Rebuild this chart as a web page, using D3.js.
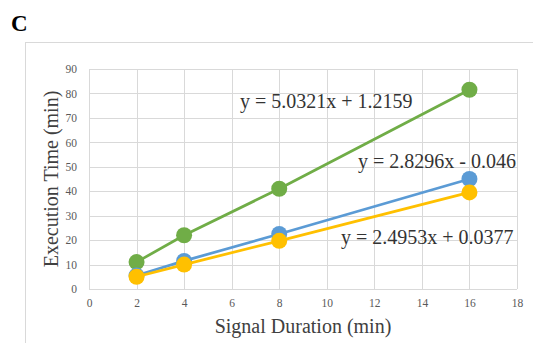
<!DOCTYPE html>
<html>
<head>
<meta charset="utf-8">
<script src="https://cdn.jsdelivr.net/npm/d3@7"></script>
<style>
  body { margin: 0; background: #fff; }
  svg { display: block; }
</style>
</head>
<body>
<div id="chart"></div>
<script>
const durations = [2, 4, 8, 16];
const greenValues = [11, 22, 41, 81.5];
const blueValues = [5.5, 11.5, 22.5, 45];
const yellowValues = [5, 10, 19.7, 39.5];
const xTicks = [0, 2, 4, 6, 8, 10, 12, 14, 16, 18];
const yTicks = [0, 10, 20, 30, 40, 50, 60, 70, 80, 90];
const equations = ['y = 5.0321x + 1.2159', 'y = 2.8296x - 0.046', 'y = 2.4953x + 0.0377'];

const width = 533, height = 343;
const margin = { left: 89, right: 16, top: 69, bottom: 54 };
const serif = '"Liberation Serif", "Times New Roman", serif';

const svg = d3.select('#chart').append('svg')
  .attr('width', width)
  .attr('height', height);

// outer chart frame
svg.append('rect')
  .attr('x', 25.5).attr('y', 42.5)
  .attr('width', 520).attr('height', 320)
  .attr('fill', 'none')
  .attr('stroke', '#d9d9d9');

svg.append('text')
  .attr('x', 11).attr('y', 31)
  .attr('font-family', serif)
  .attr('font-weight', 'bold')
  .attr('font-size', 23)
  .text('C');

const x = d3.scaleLinear().domain([0, 18]).range([margin.left, width - margin.right]);
const y = d3.scaleLinear().domain([0, 90]).range([height - margin.bottom, margin.top]);

// gridlines
svg.append('g')
  .selectAll('line')
  .data(yTicks)
  .enter()
  .append('line')
  .attr('x1', x(0)).attr('x2', x(18))
  .attr('y1', d => Math.round(y(d)) + 0.5).attr('y2', d => Math.round(y(d)) + 0.5)
  .attr('stroke', '#d9d9d9');

svg.append('g')
  .selectAll('line')
  .data(xTicks)
  .enter()
  .append('line')
  .attr('y1', y(0)).attr('y2', y(90))
  .attr('x1', d => Math.round(x(d)) + 0.5).attr('x2', d => Math.round(x(d)) + 0.5)
  .attr('stroke', '#d9d9d9');

// axes (labels only)
const xAxis = svg.append('g')
  .attr('transform', `translate(0, ${y(0) + 4})`)
  .call(d3.axisBottom(x).tickValues(xTicks).tickSize(0).tickPadding(6));
const yAxis = svg.append('g')
  .attr('transform', `translate(${x(0) - 6}, 0)`)
  .call(d3.axisLeft(y).tickValues(yTicks).tickSize(0).tickPadding(6));
[xAxis, yAxis].forEach(g => {
  g.attr('font-family', serif);
  g.select('.domain').remove();
  g.selectAll('text')
    .attr('font-size', 11.5)
    .attr('fill', '#595959');
});

svg.append('text')
  .attr('x', (x(0) + x(18)) / 2).attr('y', 333)
  .attr('text-anchor', 'middle')
  .attr('font-family', serif)
  .attr('font-size', 20)
  .attr('fill', '#404040')
  .text('Signal Duration (min)');

svg.append('text')
  .attr('transform', `translate(58, ${(y(0) + y(90)) / 2}) rotate(-90)`)
  .attr('text-anchor', 'middle')
  .attr('font-family', serif)
  .attr('font-size', 20)
  .attr('fill', '#404040')
  .text('Execution Time (min)');

const series = [
  { values: greenValues, color: '#70ad47' },
  { values: blueValues, color: '#5b9bd5' },
  { values: yellowValues, color: '#ffc000' }
];

const line = d3.line()
  .x((d, i) => x(durations[i]))
  .y(d => y(d));

series.forEach(s => {
  svg.append('path')
    .datum(s.values)
    .attr('d', line)
    .attr('fill', 'none')
    .attr('stroke', s.color)
    .attr('stroke-width', 2.75);

  svg.selectAll(null)
    .data(s.values)
    .enter()
    .append('circle')
    .attr('cx', (d, i) => x(durations[i]))
    .attr('cy', d => y(d))
    .attr('r', 8)
    .attr('fill', s.color);
});

// trendline equations
const eqPos = [[240, 108], [358, 168], [341, 244]];
equations.forEach((t, i) => {
  svg.append('text')
    .attr('x', eqPos[i][0]).attr('y', eqPos[i][1])
    .attr('font-family', serif)
    .attr('font-size', 20)
    .attr('fill', '#333')
    .text(t);
});
</script>
</body>
</html>
